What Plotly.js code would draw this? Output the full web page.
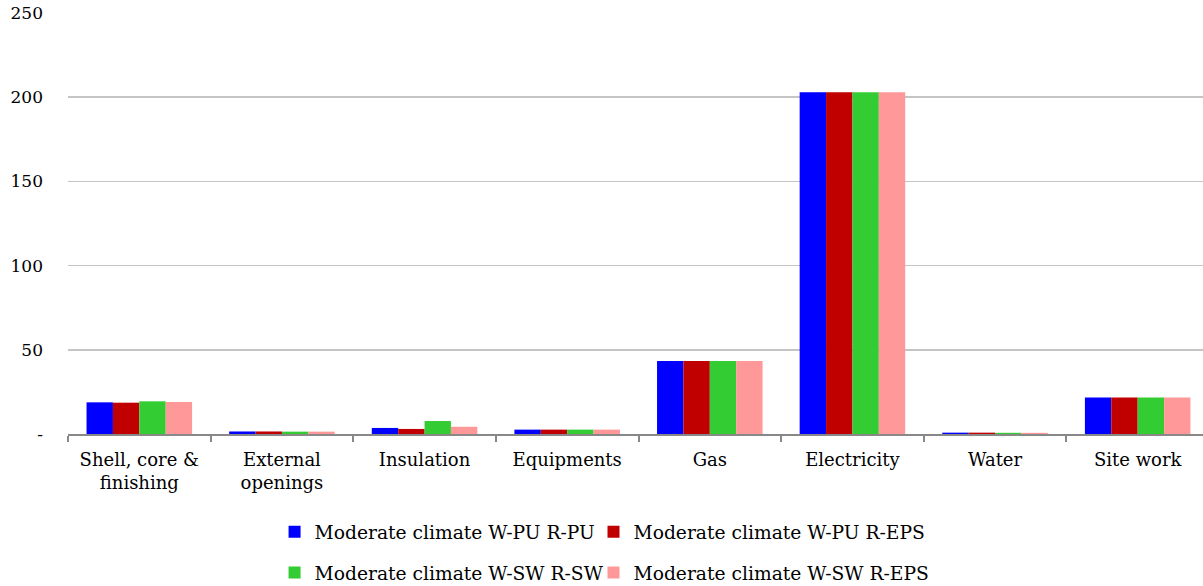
<!DOCTYPE html>
<html><head><meta charset="utf-8">
<script src="https://cdn.plot.ly/plotly-3.0.1.min.js"></script>
<style>html,body{margin:0;padding:0;background:#fff}</style>
</head><body><div id="chart" style="width:1203px;height:586px"></div>
<script>
const categories = ["Shell, core &<br>finishing", "External<br>openings", "Insulation", "Equipments", "Gas", "Electricity", "Water", "Site work"];
const seriesNames = ["Moderate climate W-PU R-PU", "Moderate climate W-PU R-EPS", "Moderate climate W-SW R-SW", "Moderate climate W-SW R-EPS"];
const wpuRpu  = [18.8, 1.5, 3.6, 2.6, 43.3, 203, 0.8, 21.7];
const wpuReps = [18.6, 1.5, 3.0, 2.6, 43.3, 203, 0.8, 21.7];
const wswRsw  = [19.4, 1.4, 7.7, 2.6, 43.3, 203, 0.7, 21.7];
const wswReps = [19.0, 1.4, 4.3, 2.6, 43.3, 203, 0.7, 21.7];
const yTickVals = [0, 50, 100, 150, 200, 250];
const yTickText = ["-", "50", "100", "150", "200", "250"];

const colors = ["#0000ff", "#c00000", "#33cc33", "#ff9999"];
const values = [wpuRpu, wpuReps, wswRsw, wswReps];
const legendIds = ["legend", "legend2", "legend3", "legend4"];
const FONT = "DejaVu Serif";

const traces = values.map((v, i) => ({
  type: "bar", x: categories, y: v, name: seriesNames[i],
  marker: {color: colors[i]}, legend: legendIds[i], hoverinfo: "skip"
}));

const legendCommon = {
  orientation: "h", xanchor: "left", yanchor: "middle",
  font: {family: FONT, size: 18.7, color: "#000"}, bgcolor: "rgba(0,0,0,0)",
  itemwidth: 30
};
const colX = [0.182, 0.463];
const rowY = [-0.233, -0.330];

const layout = {
  width: 1203, height: 586,
  margin: {l: 68, r: 0, t: 13, b: 152, autoexpand: false},
  paper_bgcolor: "#fff", plot_bgcolor: "#fff",
  barmode: "group", bargap: 0.26, bargroupgap: 0,
  font: {family: FONT, size: 18, color: "#000"},
  xaxis: {
    type: "category", range: [-0.5, 7.458], automargin: false,
    tickson: "boundaries", ticks: "outside", ticklen: 6, tickwidth: 2, tickcolor: "#888",
    showline: true, linecolor: "#888", linewidth: 2, showgrid: false, ticklabelstandoff: 8,
    tickfont: {family: FONT, size: 18, color: "#000"}
  },
  yaxis: {
    range: [0, 250], tickvals: yTickVals, ticktext: yTickText, automargin: false,
    showgrid: true, gridcolor: "#c4c4c4", gridwidth: 1.5, zeroline: false,
    showline: false, ticks: "", ticklabelstandoff: 24,
    tickfont: {family: FONT, size: 17, color: "#000"}
  },
  legend:  Object.assign({}, legendCommon, {x: colX[0], y: rowY[0]}),
  legend2: Object.assign({}, legendCommon, {x: colX[1], y: rowY[0]}),
  legend3: Object.assign({}, legendCommon, {x: colX[0], y: rowY[1]}),
  legend4: Object.assign({}, legendCommon, {x: colX[1], y: rowY[1]}),
  showlegend: true
};

Plotly.newPlot("chart", traces, layout, {displayModeBar: false, staticPlot: true});
</script></body></html>
